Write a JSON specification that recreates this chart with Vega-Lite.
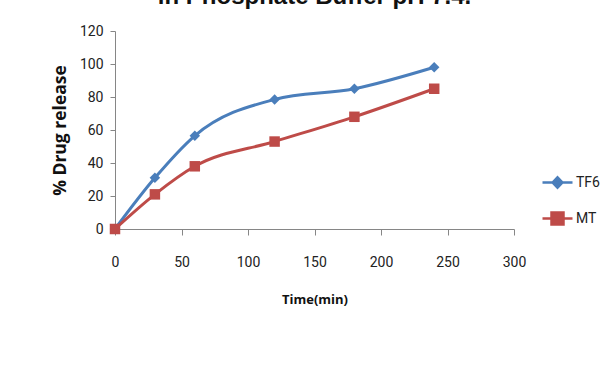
{
  "$schema": "https://vega.github.io/schema/vega-lite/v6.json",
  "width": 399,
  "height": 198,
  "autosize": {"type": "none"},
  "padding": {"left": 115, "top": 31, "right": 88, "bottom": 150},
  "background": "white",
  "title": {
    "text": "in Phosphate Buffer pH 7.4.",
    "font": "Liberation Sans",
    "fontSize": 24,
    "fontWeight": "bold",
    "color": "#111111",
    "baseline": "alphabetic",
    "offset": -4,
    "anchor": "middle"
  },
  "config": {
    "view": {"stroke": null},
    "font": "Roboto"
  },
  "data": {
    "values": [
      {"t": 0, "v": 0, "s": "TF6"},
      {"t": 30, "v": 31, "s": "TF6"},
      {"t": 60, "v": 56.5, "s": "TF6"},
      {"t": 120, "v": 78.5, "s": "TF6"},
      {"t": 180, "v": 85, "s": "TF6"},
      {"t": 240, "v": 98, "s": "TF6"},
      {"t": 0, "v": 0, "s": "MT"},
      {"t": 30, "v": 21, "s": "MT"},
      {"t": 60, "v": 38, "s": "MT"},
      {"t": 120, "v": 53, "s": "MT"},
      {"t": 180, "v": 68, "s": "MT"},
      {"t": 240, "v": 85, "s": "MT"}
    ]
  },
  "encoding": {
    "x": {
      "field": "t", "type": "quantitative",
      "scale": {"domain": [0, 300], "nice": false, "zero": false},
      "axis": {
        "title": "Time(min)", "values": [0, 50, 100, 150, 200, 250, 300],
        "grid": false, "domainColor": "#868686", "tickColor": "#868686",
        "tickSize": 6, "labelPadding": 20, "labelFontSize": 14, "labelColor": "#222222",
        "labelFont": "Roboto", "labelFlush": false, "labelOverlap": false,
        "titleFont": "Open Sans", "titleFontSize": 13, "titleFontWeight": "bold",
        "titlePadding": 24, "titleColor": "#111111"
      }
    },
    "y": {
      "field": "v", "type": "quantitative",
      "scale": {"domain": [0, 120], "nice": false},
      "axis": {
        "title": "% Drug release", "values": [0, 20, 40, 60, 80, 100, 120],
        "grid": false, "domainColor": "#868686", "tickColor": "#868686",
        "tickSize": 5, "labelPadding": 7, "labelFontSize": 14, "labelColor": "#222222",
        "labelFont": "Roboto", "labelFlush": false, "labelOverlap": false,
        "titleFont": "Open Sans", "titleFontSize": 17.5, "titleFontWeight": "bold",
        "titlePadding": 10, "titleColor": "#111111"
      }
    },
    "color": {
      "field": "s", "type": "nominal",
      "scale": {"domain": ["TF6", "MT"], "range": ["#4A7EBB", "#BE4B48"]},
      "legend": {
        "title": null,
        "orient": "none",
        "legendX": 426,
        "legendY": 135,
        "rowPadding": 9,
        "symbolSize": 900,
        "symbolType": "M-1,0L1,0",
        "symbolStrokeWidth": 2.5,
        "labelFontSize": 14,
        "labelFont": "Roboto",
        "labelColor": "#222222",
        "labelOffset": 2,
        "encode": {
          "symbols": {
            "update": {
              "shape": {"signal": "datum.value === 'TF6' ? 'M-1,0L1,0M-0.33,0L0,-0.35L0.33,0L0,0.35Z' : 'M-1,0L1,0M-0.4,-0.4L0.4,-0.4L0.4,0.4L-0.4,0.4Z'"},
              "fill": {"signal": "datum.value === 'TF6' ? '#4A7EBB' : '#BE4B48'"},
              "stroke": {"signal": "datum.value === 'TF6' ? '#4A7EBB' : '#BE4B48'"},
              "strokeWidth": {"value": 2.5},
              "strokeOpacity": {"value": 1},
              "fillOpacity": {"value": 1},
              "opacity": {"value": 1}
            }
          }
        }
      }
    }
  },
  "layer": [
    {
      "mark": {"type": "line", "interpolate": "monotone", "strokeWidth": 3}
    },
    {
      "transform": [{"filter": "datum.s === 'TF6'"}],
      "mark": {"type": "point", "filled": true, "opacity": 1, "size": 110, "shape": "diamond"}
    },
    {
      "transform": [{"filter": "datum.s === 'MT'"}],
      "mark": {"type": "point", "filled": true, "opacity": 1, "size": 110, "shape": "square"}
    }
  ]
}
